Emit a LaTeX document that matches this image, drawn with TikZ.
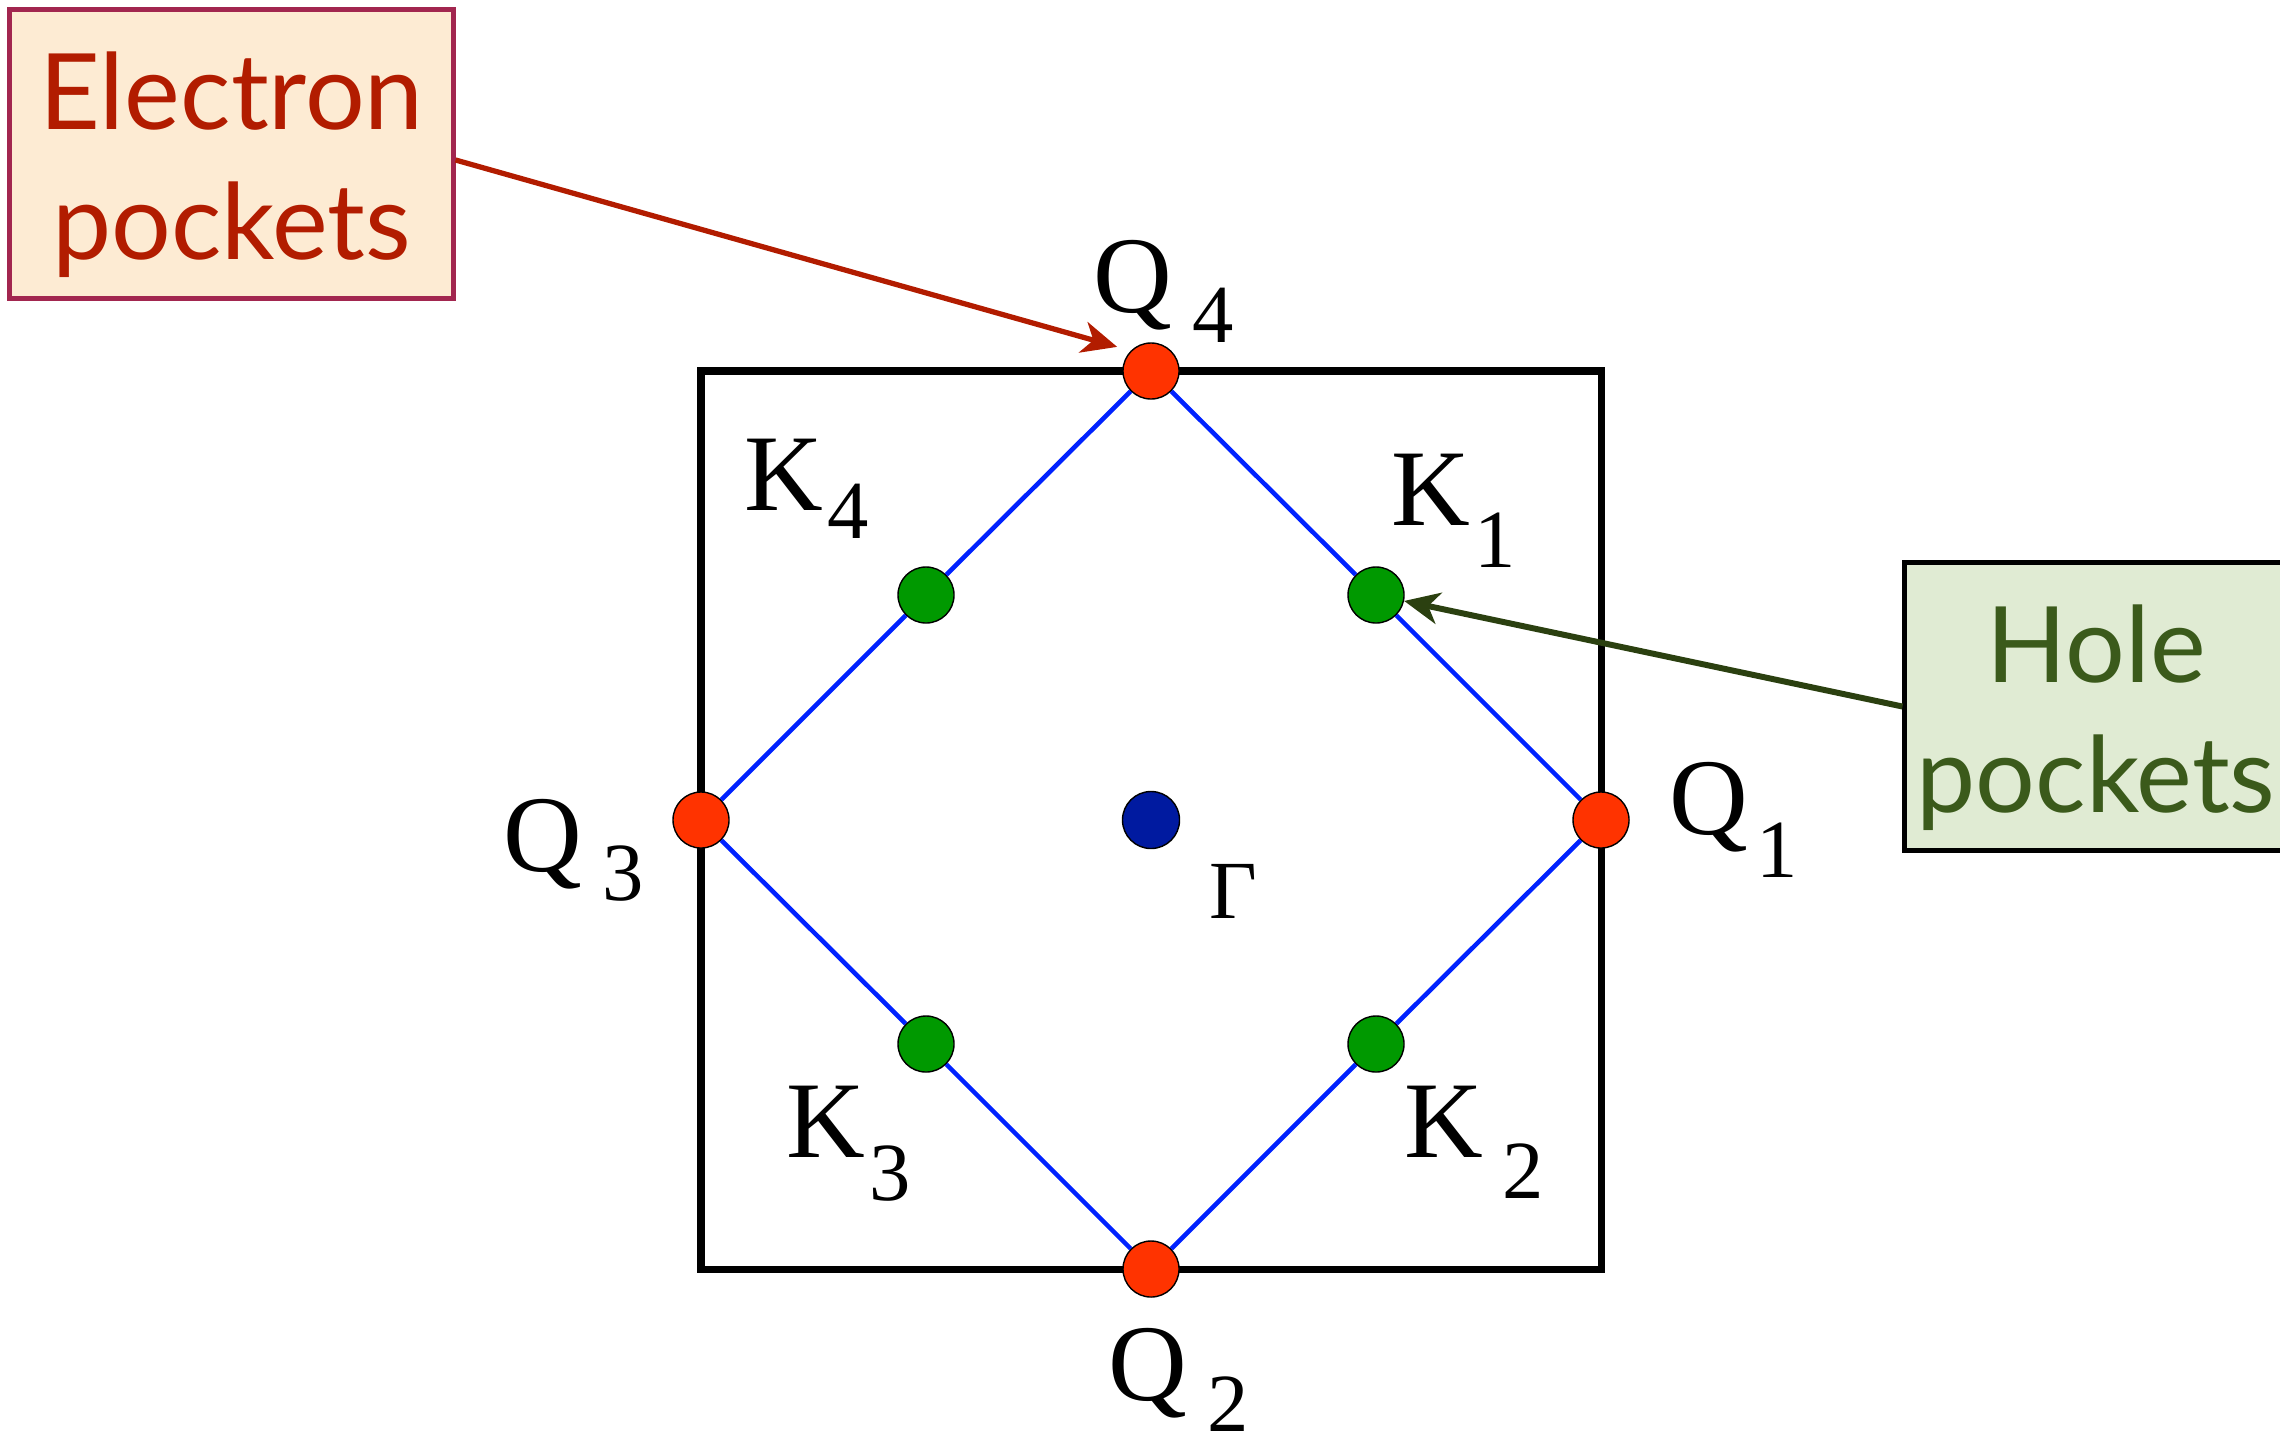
\documentclass[tikz,border=0pt]{standalone}
\usepackage{fontspec}
\setmainfont{Liberation Serif}
\newfontfamily\pocketfont{Lato}
\usetikzlibrary{arrows.meta}
\definecolor{qred}{HTML}{FF3300}
\definecolor{kgreen}{HTML}{009900}
\definecolor{gblue}{HTML}{001AA0}
\definecolor{bzline}{HTML}{0022FF}
\definecolor{etext}{HTML}{B21C00}
\definecolor{eborder}{HTML}{A2264F}
\definecolor{efill}{HTML}{FDEBD3}
\definecolor{htext}{HTML}{3B5A1B}
\definecolor{harrow}{HTML}{2B4010}
\definecolor{hfill}{HTML}{E0EBD3}
\newcommand{\pline}[1]{\raisebox{-1.1mm}[\height][\depth]{#1}}

\begin{document}
\begin{tikzpicture}[
  x=0.01cm, y=-0.01cm,
  dot/.style={circle, draw=black, line width=0.4pt, minimum size=5.6mm, inner sep=0pt},
  qdot/.style={dot, fill=qred},
  kdot/.style={dot, fill=kgreen},
  lbl/.style={anchor=base west, inner sep=0pt, font=\fontsize{31}{31}\selectfont},
  idx/.style={anchor=base west, inner sep=0pt, font=\fontsize{23.5}{23.5}\selectfont},
  pocket/.style={rectangle, line width=1.4pt, align=center, inner sep=0pt,
    font=\pocketfont\fontsize{30}{37}\selectfont},
  arrow/.style={-{Stealth[length=10pt, width=9pt, inset=3pt]}, line width=1.5pt}
]
\useasboundingbox (0,0) rectangle (2280,1439);

% zone boundary
\draw[line width=2pt] (701,371) rectangle (1601,1269);

% pockets
\node[qdot] (q1) at (1601,820) {};
\node[qdot] (q2) at (1151,1269) {};
\node[qdot] (q3) at (701,820) {};
\node[qdot] (q4) at (1151,371) {};
\node[kdot] (k1) at (1376,595) {};
\node[kdot] (k2) at (1376,1044) {};
\node[kdot] (k3) at (926,1044) {};
\node[kdot] (k4) at (926,595) {};
\node[dot, fill=gblue, minimum size=5.7mm] (g) at (1151,820) {};

\draw[bzline, line width=1.3pt] (q4) -- (k1) -- (q1) -- (k2) -- (q2) -- (k3) -- (q3) -- (k4) -- (q4);

% labels
\node[lbl] (q4l) at (1093,312) {Q};
\node[idx] (q4i) at (1192,342) {4};
\node[lbl] (k4l) at (744,510) {K};
\node[idx] (k4i) at (827,538) {4};
\node[lbl] (k1l) at (1391,525) {K};
\node[idx] (k1i) at (1474,567) {1};
\node[lbl] (q3l) at (503,871) {Q};
\node[idx] (q3i) at (602,900) {3};
\node[lbl] (q1l) at (1669,834) {Q};
\node[idx] (q1i) at (1756,877) {1};
\node[lbl] (k3l) at (786,1157) {K};
\node[idx] (k3i) at (869,1200) {3};
\node[lbl] (k2l) at (1404,1157) {K};
\node[idx] (k2i) at (1502,1198) {2};
\node[lbl] (q2l) at (1108,1400) {Q};
\node[idx] (q2i) at (1207,1431) {2};
\node[idx] (gl) at (1209,918) {Γ};

% callouts
\node[pocket, draw=eborder, fill=efill, text=etext, minimum width=4.43cm, minimum height=2.88cm]
  (epock) at (231.5,154) {\pline{Electron}\\\pline{pockets}};
\node[pocket, draw=black, fill=hfill, text=htext, minimum width=3.82cm, minimum height=2.87cm]
  (hpock) at (2096,706.5) {\pline{Hole}\\\pline{pockets}};

\draw[arrow, etext, shorten >=4pt] ([yshift=-0.6mm]epock.east) -- (q4.north west);
\draw[arrow, harrow, line width=1.7pt] (hpock.west) -- (k1);
\end{tikzpicture}
\end{document}
